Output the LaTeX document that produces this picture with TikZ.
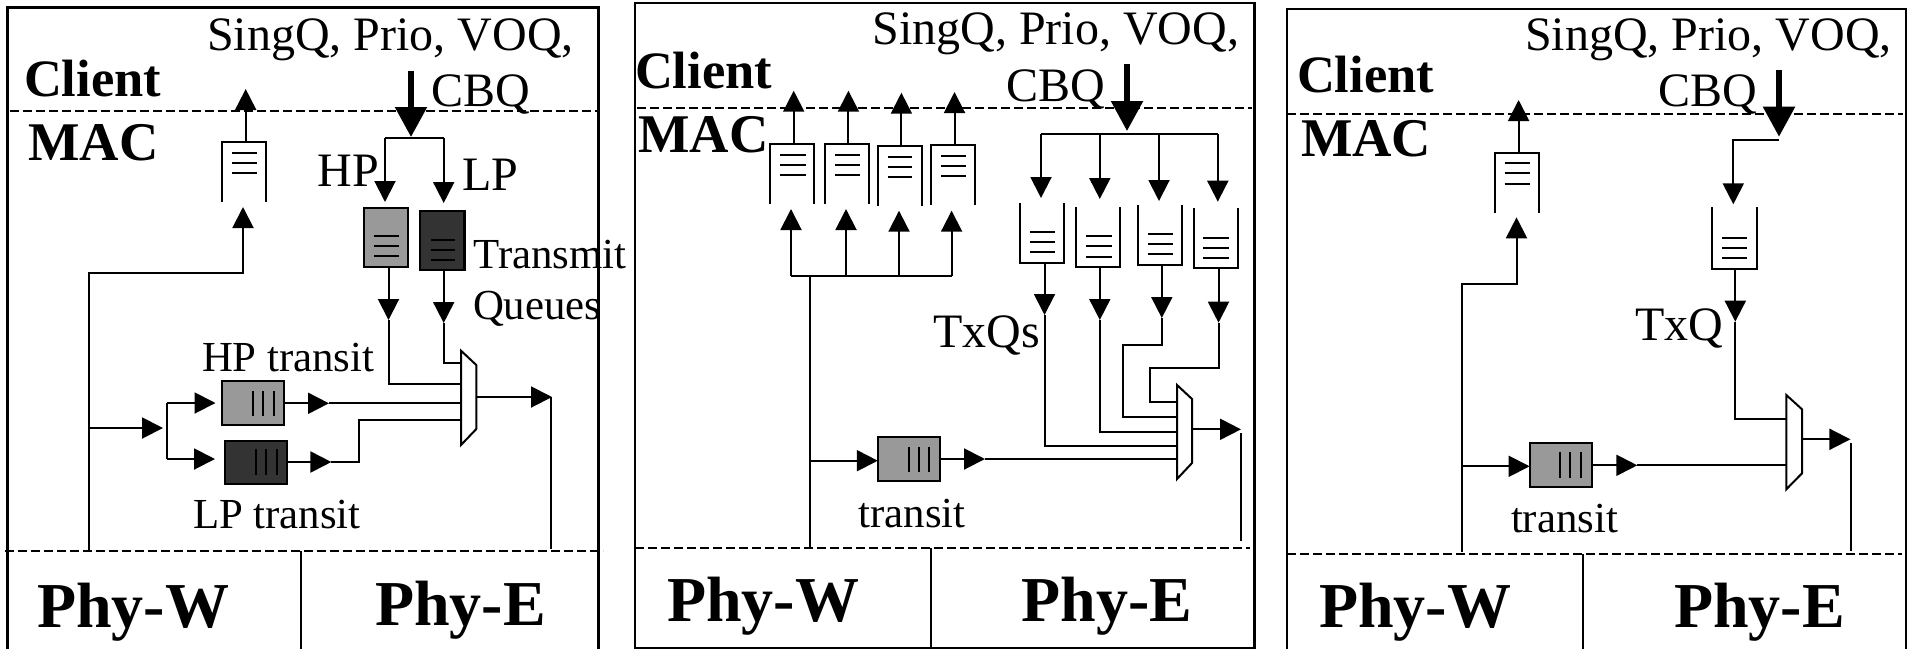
\documentclass[tikz,border=0pt]{standalone}
\usepackage{fontspec}
\setmainfont{Liberation Serif}
\usetikzlibrary{arrows.meta}
\definecolor{qgray}{HTML}{999999}
\definecolor{qdark}{HTML}{333333}
\newcommand{\bigf}{\fontsize{48}{50}\selectfont}
\newcommand{\lblf}{\fontsize{42.8}{46}\selectfont}
\newcommand{\clif}{\fontsize{52.5}{56}\selectfont\bfseries}
\newcommand{\macf}{\fontsize{54.5}{56}\selectfont\bfseries}
\newcommand{\phyf}{\fontsize{64}{66}\selectfont\bfseries}
\tikzset{
  wire/.style={line width=2pt,line cap=butt,line join=miter},
  arr/.style={wire,-{Triangle[length=21pt,width=21pt]}},
  thickarr/.style={line width=5.5pt,-{Triangle[length=30pt,width=31pt]}},
  framel/.style={line width=2.2pt},
  dashline/.style={line width=2pt,dash pattern=on 9pt off 4pt},
  txt/.style={anchor=base west,inner sep=0pt,outer sep=0pt},
  ghost/.style={inner sep=0pt,outer sep=0pt},
  innerl/.style={line width=2pt}
}
\newcommand{\qbox}[5]{\node[ghost,minimum width={(#4-#2)*1pt},minimum height={(#5-#3)*1pt}] (#1) at ({(#2+#4)/2},{(#3+#5)/2}) {};}
\newcommand{\qlines}[5]{\draw[innerl] (#1,#3) -- (#2,#3) (#1,#4) -- (#2,#4) (#1,#5) -- (#2,#5);}
\newcommand{\vlines}[5]{\draw[innerl] (#1,#4) -- (#1,#5) (#2,#4) -- (#2,#5) (#3,#4) -- (#3,#5);}
\newcommand{\openbot}[1]{\draw[wire] (#1.south west) -- (#1.north west) -- (#1.north east) -- (#1.south east);}
\newcommand{\opentop}[1]{\draw[wire] (#1.north west) -- (#1.south west) -- (#1.south east) -- (#1.north east);}
\newcommand{\muxshape}[3]{\draw[wire,fill=white] (#1.north west) -- ([yshift=-#2pt]#1.north east) -- ([yshift=#3pt]#1.south east) -- (#1.south west) -- cycle;}
\begin{document}
\begin{tikzpicture}[x=1pt,y=-1pt]
\useasboundingbox (0,0) rectangle (1910,649);
% ===== Panel 1 =====
\draw[framel] (7.5,649) -- (7.5,7.5) -- (598.5,7.5) -- (598.5,649);
\coordinate (d1a) at (10,111); \coordinate (d1b) at (598,111);
\draw[dashline] (d1a) -- (d1b);
\coordinate (e1a) at (5,551); \coordinate (e1b) at (603,551);
\draw[dashline] (e1a) -- (e1b);
\coordinate (v1a) at (301,551); \coordinate (v1b) at (301,649);
\draw[wire] (v1a) -- (v1b);
\node[txt] (cl1) at (24,96) {\clif Client};
\node[txt] (ma1) at (28.5,160) {\macf MAC};
\node[txt] (sq1) at (207,50) {\bigf SingQ, Prio, VOQ,};
\node[txt] (cb1) at (431,106.5) {\bigf CBQ};
\node[txt] (hp1) at (317.5,186) {\bigf HP};
\node[txt] (lp1) at (462,190) {\bigf LP};
\node[txt] (tr1) at (473.5,268) {\lblf Transmit};
\node[txt] (qu1) at (473,319) {\lblf Queues};
\node[txt] (ht1) at (202,371.5) {\lblf HP transit};
\node[txt] (lt1) at (193,528) {\lblf LP transit};
\node[txt] (pw1) at (37,627) {\phyf Phy-W};
\node[txt] (pe1) at (375,625.5) {\phyf Phy-E};
\coordinate (t1a) at (411,71); \coordinate (t1b) at (411,137);
\draw[thickarr] (t1a) -- (t1b);
\coordinate (s1l) at (385,138); \coordinate (s1r) at (443.7,138);
\draw[wire] (s1l) -- (s1r);
\qbox{rq1}{222}{142}{266}{202}\openbot{rq1}\qlines{232}{257}{153}{163}{173}
\qbox{hq1}{364}{208}{408}{267}\draw[wire,line width=2.5pt,fill=qgray] (hq1.south west) rectangle (hq1.north east);\qlines{374}{399}{236}{246}{256}
\qbox{lq1}{420}{211}{464.5}{270}\draw[wire,line width=2.5pt,fill=qdark] (lq1.south west) rectangle (lq1.north east);\qlines{431}{455}{240}{250}{260}
\coordinate (a1t) at (385,202); \coordinate (b1t) at (443.7,203);
\draw[arr] (s1l) -- (a1t);
\draw[arr] (s1r) -- (b1t);
\coordinate (u1t) at (245.7,89);
\draw[arr] (rq1.north -| u1t) -- (u1t);
\coordinate (i1t) at (243,207); \coordinate (i1c) at (243,273); \coordinate (i1v) at (89,273); \coordinate (i1b) at (89,551);
\draw[arr] (i1b) -- (i1v) -- (i1c) -- (i1t);
\qbox{ht1b}{222.4}{381}{284}{425}\draw[wire,fill=qgray] (ht1b.south west) rectangle (ht1b.north east);\vlines{253}{263}{273.5}{391}{416}
\qbox{lt1b}{225}{440.7}{287}{484}\draw[wire,fill=qdark] (lt1b.south west) rectangle (lt1b.north east);\vlines{256}{266}{277}{449}{475}
\qbox{mx1}{461}{350.7}{476.3}{445}\muxshape{mx1}{14.3}{16}
\coordinate (j1) at (89,428); \coordinate (j1t) at (163,428);
\draw[arr] (j1) -- (j1t);
\coordinate (f1a) at (215.5,403); \coordinate (f1al) at (167.3,403); \coordinate (f1b) at (215,459); \coordinate (f1bl) at (167.3,459);
\draw[wire] (f1al) -- (f1bl);
\draw[arr] (f1al) -- (f1a);
\draw[arr] (f1bl) -- (f1b);
\coordinate (o1t) at (329,403.3);
\draw[arr] (ht1b.east |- o1t) -- (o1t);
\draw[wire] (o1t) -- (mx1.west |- o1t);
\coordinate (o2t) at (331.4,462); \coordinate (o2c) at (359,462); \coordinate (o2d) at (359,420);
\draw[arr] (lt1b.east |- o2t) -- (o2t);
\draw[wire] (o2t) -- (o2c) -- (o2d) -- (mx1.west |- o2d);
\coordinate (a1d) at (388.5,320); \coordinate (a1e) at (388.5,384);
\draw[arr] (hq1.south -| a1d) -- (a1d);
\draw[wire] (a1d) -- (a1e) -- (mx1.west |- a1e);
\coordinate (b1d) at (443.7,323); \coordinate (b1e) at (443.7,363);
\draw[arr] (lq1.south -| b1d) -- (b1d);
\draw[wire] (b1d) -- (b1e) -- (mx1.west |- b1e);
\coordinate (m1o) at (552,397); \coordinate (m1v) at (551,397); \coordinate (m1b) at (551,549);
\draw[arr] (mx1.east |- m1o) -- (m1o);
\draw[wire] (m1v) -- (m1b);
% ===== Panel 2 =====
\draw[framel] (635,3) rectangle (1254.5,648);
\coordinate (d2a) at (637,107.7); \coordinate (d2b) at (1252,107.7);
\draw[dashline] (d2a) -- (d2b);
\coordinate (e2a) at (635,547.7); \coordinate (e2b) at (1250,547.7);
\draw[dashline] (e2a) -- (e2b);
\coordinate (v2a) at (931,547.7); \coordinate (v2b) at (931,648);
\draw[wire] (v2a) -- (v2b);
\node[txt] (cl2) at (635,88) {\clif Client};
\node[txt] (ma2) at (638.5,152.7) {\macf MAC};
\node[txt] (sq2) at (872.5,44) {\bigf SingQ, Prio, VOQ,};
\node[txt] (cb2) at (1006.5,101.7) {\bigf CBQ};
\node[txt] (tx2) at (933.5,347.3) {\bigf TxQs};
\node[txt] (tt2) at (858.5,527) {\lblf transit};
\node[txt] (pw2) at (667,621.7) {\phyf Phy-W};
\node[txt] (pe2) at (1021.5,621.7) {\phyf Phy-E};
\coordinate (t2a) at (1127,64); \coordinate (t2b) at (1127,131);
\draw[thickarr] (t2a) -- (t2b);
\coordinate (b2a) at (1041,134.3); \coordinate (b2b) at (1099.8,134.3); \coordinate (b2c) at (1159,134.3); \coordinate (b2d) at (1217.8,134.3);
\draw[wire] (b2a) -- (b2d);
\coordinate (c2a) at (1041,198); \coordinate (c2b) at (1099.8,199); \coordinate (c2c) at (1159,201); \coordinate (c2d) at (1217.8,201.7);
\draw[arr] (b2a) -- (c2a);
\draw[arr] (b2b) -- (c2b);
\draw[arr] (b2c) -- (c2c);
\draw[arr] (b2d) -- (c2d);
\qbox{q2a}{1019.8}{203}{1064}{262.7}\opentop{q2a}\qlines{1030}{1055}{231.7}{241.7}{252.3}
\qbox{q2b}{1075.7}{206.7}{1119.8}{266.7}\opentop{q2b}\qlines{1086}{1111.6}{236}{246}{256.7}
\qbox{q2c}{1138}{205}{1182}{265}\opentop{q2c}\qlines{1147.5}{1173}{234}{244}{254}
\qbox{q2d}{1193.7}{208}{1238}{268}\opentop{q2d}\qlines{1203}{1229}{237.7}{247.7}{258}
\qbox{mx2}{1177}{385}{1192}{479}\muxshape{mx2}{14}{16}
\coordinate (g2a) at (1044.5,315); \coordinate (h2a) at (1044.5,446);
\draw[arr] (q2a.south -| g2a) -- (g2a);
\draw[wire] (g2a) -- (h2a) -- (mx2.west |- h2a);
\coordinate (g2b) at (1099.8,320); \coordinate (h2b) at (1099.8,432);
\draw[arr] (q2b.south -| g2b) -- (g2b);
\draw[wire] (g2b) -- (h2b) -- (mx2.west |- h2b);
\coordinate (g2c) at (1161.8,318); \coordinate (h2c) at (1161.8,345); \coordinate (i2c) at (1122.7,345); \coordinate (j2c) at (1122.7,417.3);
\draw[arr] (q2c.south -| g2c) -- (g2c);
\draw[wire] (g2c) -- (h2c) -- (i2c) -- (j2c) -- (mx2.west |- j2c);
\coordinate (g2d) at (1218.5,322.7); \coordinate (h2d) at (1218.5,368); \coordinate (i2d) at (1150.4,368); \coordinate (j2d) at (1150.4,402);
\draw[arr] (q2d.south -| g2d) -- (g2d);
\draw[wire] (g2d) -- (h2d) -- (i2d) -- (j2d) -- (mx2.west |- j2d);
\coordinate (o2x) at (1241,429.3); \coordinate (o2v) at (1241,433); \coordinate (o2w) at (1241,540.7);
\draw[arr] (mx2.east |- o2x) -- (o2x);
\draw[wire] (o2v) -- (o2w);
\coordinate (w2a) at (810,275.7); \coordinate (w2b) at (810,547.7); \coordinate (w2c) at (810,460.7); \coordinate (w2t) at (877.8,460.7);
\draw[wire] (w2a) -- (w2b);
\draw[arr] (w2c) -- (w2t);
\qbox{tb2}{877.8}{437}{940}{481}\draw[wire,fill=qgray] (tb2.south west) rectangle (tb2.north east);\vlines{908.8}{918.6}{929}{446.7}{471.7}
\coordinate (k2t) at (985,459);
\draw[arr] (tb2.east |- k2t) -- (k2t);
\draw[wire] (k2t) -- (mx2.west |- k2t);
\qbox{r2a}{770}{144}{814}{204}\openbot{r2a}\qlines{780}{805.5}{155}{165}{175}
\qbox{r2b}{824.7}{144}{869}{204}\openbot{r2b}\qlines{835}{860}{155}{165}{175}
\qbox{r2c}{877.8}{146}{922}{206}\openbot{r2c}\qlines{888}{912.4}{156.7}{166.7}{176.7}
\qbox{r2d}{930.8}{145}{975}{205}\openbot{r2d}\qlines{941}{966}{155.7}{165.7}{175.7}
\coordinate (n2a) at (791,275.7); \coordinate (n2b) at (846,275.7); \coordinate (n2c) at (899,275.7); \coordinate (n2d) at (951.6,275.7);
\draw[wire] (n2a) -- (n2d);
\coordinate (p2a) at (791,209); \coordinate (p2b) at (846,209); \coordinate (p2c) at (899,210.7); \coordinate (p2d) at (951.6,210.7);
\draw[arr] (n2a) -- (p2a);
\draw[arr] (n2b) -- (p2b);
\draw[arr] (n2c) -- (p2c);
\draw[arr] (n2d) -- (p2d);
\coordinate (x2a) at (793.7,90.7); \coordinate (x2b) at (848.4,90.7); \coordinate (x2c) at (901.4,92.7); \coordinate (x2d) at (954.5,92);
\draw[arr] (r2a.north -| x2a) -- (x2a);
\draw[arr] (r2b.north -| x2b) -- (x2b);
\draw[arr] (r2c.north -| x2c) -- (x2c);
\draw[arr] (r2d.north -| x2d) -- (x2d);
% ===== Panel 3 =====
\draw[framel] (1287,649) -- (1287,9) -- (1906,9) -- (1906,649);
\coordinate (d3a) at (1287,113.7); \coordinate (d3b) at (1903,113.7);
\draw[dashline] (d3a) -- (d3b);
\coordinate (e3a) at (1287,554); \coordinate (e3b) at (1902,554);
\draw[dashline] (e3a) -- (e3b);
\coordinate (v3a) at (1583,554); \coordinate (v3b) at (1583,649);
\draw[wire] (v3a) -- (v3b);
\node[txt] (cl3) at (1297,92.7) {\clif Client};
\node[txt] (ma3) at (1301,156.7) {\macf MAC};
\node[txt] (sq3) at (1525,50) {\bigf SingQ, Prio, VOQ,};
\node[txt] (cb3) at (1658.5,106.7) {\bigf CBQ};
\node[txt] (tx3) at (1635,340) {\bigf TxQ};
\node[txt] (tt3) at (1511,532) {\lblf transit};
\node[txt] (pw3) at (1319,627) {\phyf Phy-W};
\node[txt] (pe3) at (1674,627) {\phyf Phy-E};
\coordinate (t3a) at (1779,70); \coordinate (t3b) at (1779,136.7);
\draw[thickarr] (t3a) -- (t3b);
\coordinate (l3a) at (1779,140.3); \coordinate (l3b) at (1733.3,140.3); \coordinate (l3c) at (1733.3,204.3);
\draw[arr] (l3a) -- (l3b) -- (l3c);
\qbox{q3}{1712}{207}{1756.5}{268.7}\opentop{q3}\qlines{1721.8}{1746.7}{237.7}{247.7}{258.3}
\qbox{mx3}{1786.3}{395}{1802}{489.3}\muxshape{mx3}{14.3}{16}
\coordinate (g3) at (1735.3,321.7); \coordinate (h3) at (1735.3,419.3);
\draw[arr] (q3.south -| g3) -- (g3);
\draw[wire] (g3) -- (h3) -- (mx3.west |- h3);
\coordinate (o3) at (1850.4,439.3); \coordinate (o3v) at (1851,443.3); \coordinate (o3w) at (1851,550.7);
\draw[arr] (mx3.east |- o3) -- (o3);
\draw[wire] (o3v) -- (o3w);
\qbox{r3}{1495}{152.7}{1538.6}{212.7}\openbot{r3}\qlines{1504.7}{1530}{163.3}{173.3}{184}
\coordinate (x3) at (1518.6,100);
\draw[arr] (r3.north -| x3) -- (x3);
\coordinate (i3t) at (1516.5,217.3); \coordinate (i3c) at (1516.5,283.7); \coordinate (i3v) at (1462.2,283.7); \coordinate (i3b) at (1462.2,552);
\draw[arr] (i3b) -- (i3v) -- (i3c) -- (i3t);
\coordinate (w3c) at (1462.2,466.3); \coordinate (w3t) at (1529.6,466.3);
\draw[arr] (w3c) -- (w3t);
\qbox{tb3}{1529.6}{442.7}{1592}{486.7}\draw[wire,fill=qgray] (tb3.south west) rectangle (tb3.north east);\vlines{1560}{1570.4}{1581.4}{452}{477.7}
\coordinate (k3t) at (1637.3,465.3);
\draw[arr] (tb3.east |- k3t) -- (k3t);
\draw[wire] (k3t) -- (mx3.west |- k3t);
\end{tikzpicture}
\end{document}
